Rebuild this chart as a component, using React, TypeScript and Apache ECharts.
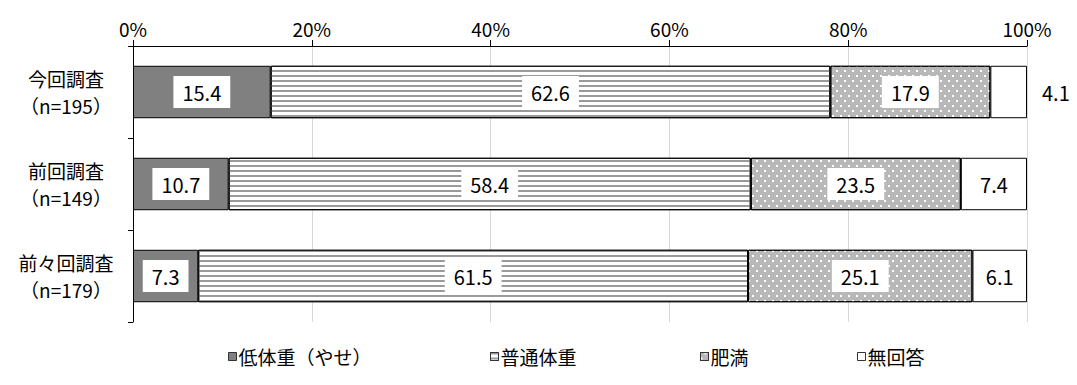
import React, { useEffect, useRef } from "react";
import * as echarts from "echarts";

const categories = ["今回調査", "前回調査", "前々回調査"];
const sampleSizes = ["（n=195）", "（n=149）", "（n=179）"];
const seriesNames = ["低体重（やせ）", "普通体重", "肥満", "無回答"];
const underweight = [15.4, 10.7, 7.3];
const normal = [62.6, 58.4, 61.5];
const obese = [17.9, 23.5, 25.1];
const noAnswer = [4.1, 7.4, 6.1];
const xTicks = [0, 20, 40, 60, 80, 100];

const FONT = "'Noto Sans CJK JP', 'Noto Sans', sans-serif";

export default function App() {
  const ref = useRef<HTMLDivElement>(null);
  useEffect(() => {
    if (!ref.current) return;
    const chart = echarts.init(ref.current, null, { renderer: "svg" });
    const labelBase = {
      show: true,
      position: "inside",
      color: "#000",
      fontSize: 20,
      fontFamily: FONT,
      backgroundColor: "#fff",
      padding: [6, 9],
      formatter: (p: any) => Number(p.value).toFixed(1),
    };
    const border = { borderColor: "#000", borderWidth: 1 };
    const values = [underweight, normal, obese, noAnswer];
    const styles: any[] = [
      { color: "#808080", ...border },
      {
        color: "#ffffff",
        ...border,
        decal: {
          symbol: "rect",
          color: "#9a9a9a",
          dashArrayX: [1, 0],
          dashArrayY: [1.5, 2.8],
          rotation: 0,
          symbolSize: 1,
        },
      },
      {
        color: "#b8b8b8",
        ...border,
        decal: {
          symbol: "rect",
          color: "#ffffff",
          dashArrayX: [[1.5, 5.5], [0, 3.5, 1.5, 2]],
          dashArrayY: [1.5, 2.5],
          rotation: 0,
          symbolSize: 1,
        },
      },
      { color: "#ffffff", ...border },
    ];
    const series = seriesNames.map((name, i) => ({
      name,
      type: "bar",
      stack: "total",
      barWidth: "57%",
      itemStyle: styles[i],
      label: labelBase,
      data: values[i].map((v, j) =>
        i === 3 && j === 0
          ? { value: v, label: { ...labelBase, position: "right", distance: 6 } }
          : v
      ),
    }));
    const legendLeft = [228, 490, 700, 857];
    chart.setOption({
      animation: false,
      textStyle: { fontFamily: FONT },
      grid: { left: 133, right: 50, top: 46, bottom: 63 },
      xAxis: {
        type: "value",
        position: "top",
        min: 0,
        max: 100,
        interval: 20,
        axisLine: { show: true, lineStyle: { color: "#000", width: 1 } },
        axisTick: { show: true, length: 6, lineStyle: { color: "#000" } },
        splitLine: { show: true, lineStyle: { color: "#d9d9d9", width: 1 } },
        axisLabel: {
          color: "#000",
          fontSize: 19,
          fontFamily: FONT,
          margin: 8,
          formatter: (v: number) => (xTicks.includes(v) ? v + "%" : ""),
        },
      },
      yAxis: {
        type: "category",
        inverse: true,
        data: categories.map((c, i) => c + "\n" + sampleSizes[i]),
        axisLine: { show: true, lineStyle: { color: "#000", width: 1 } },
        axisTick: { show: true, length: 5, lineStyle: { color: "#000" } },
        axisLabel: {
          color: "#000",
          fontSize: 19,
          fontFamily: FONT,
          lineHeight: 27,
          align: "center",
          margin: 67,
        },
      },
      legend: seriesNames.map((n, i) => ({
        data: [n],
        left: legendLeft[i],
        top: 347,
        icon: "rect",
        itemWidth: 8,
        itemHeight: 8,
        itemGap: 0,
        padding: 0,
        textStyle: { fontSize: 19, color: "#000", fontFamily: FONT, padding: [0, 0, 0, -3] },
        itemStyle: { borderColor: "#333", borderWidth: 1 },
      })),
      series,
    });
    return () => chart.dispose();
  }, []);
  return <div ref={ref} style={{ width: 1077, height: 385, margin: -8 }} />;
}
